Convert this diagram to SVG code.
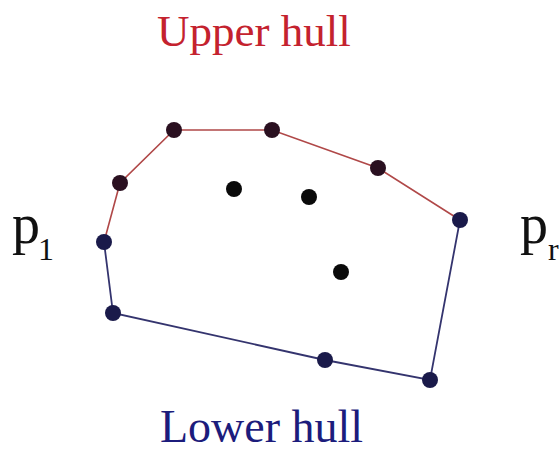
<svg xmlns="http://www.w3.org/2000/svg" width="559" height="455" viewBox="0 0 559 455">
<style>
text{font-family:"Liberation Serif","DejaVu Serif",serif;}
.up{fill:#c4222e;font-size:45px;}
.lo{fill:#1c1c7c;font-size:46px;}
.p{fill:#111;font-size:56px;}
.sub{fill:#111;font-size:32px;}
.uh{fill:none;stroke:#b04848;stroke-width:1.6;}
.lh{fill:none;stroke:#34346e;stroke-width:1.8;}
.du{fill:#2a1020;}
.dl{fill:#1a1a4a;}
.di{fill:#0a0a0a;}
</style>
<rect width="559" height="455" fill="#ffffff"/>
<g id="connectors">
<polyline class="uh" points="104,242 120,183 174,130 272,130 378,168 460,220"/>
<polyline class="lh" points="104,242 113,313 325,360 430,380 460,220"/>
</g>
<g id="upper-points">
<circle class="du" cx="120" cy="183" r="8"/>
<circle class="du" cx="174" cy="130" r="8"/>
<circle class="du" cx="272" cy="130" r="8"/>
<circle class="du" cx="378" cy="168" r="8"/>
</g>
<g id="p1-point"><circle class="dl" cx="104" cy="242" r="8"/></g>
<g id="pr-point"><circle class="dl" cx="460" cy="220" r="8"/></g>
<g id="lower-points">
<circle class="dl" cx="113" cy="313" r="8"/>
<circle class="dl" cx="325" cy="360" r="8"/>
<circle class="dl" cx="430" cy="380" r="8"/>
</g>
<g id="interior-points">
<circle class="di" cx="234" cy="189" r="8"/>
<circle class="di" cx="309" cy="197" r="8"/>
<circle class="di" cx="341" cy="272" r="8"/>
</g>
<g id="label-upper"><text class="up" x="157" y="46">Upper hull</text></g>
<g id="label-lower"><text class="lo" x="160" y="442">Lower hull</text></g>
<g id="label-p1"><text class="p" x="12" y="243">p</text><text class="sub" x="38" y="260">1</text></g>
<g id="label-pr"><text class="p" x="520" y="243">p</text><text class="sub" x="548" y="260">r</text></g>
</svg>
